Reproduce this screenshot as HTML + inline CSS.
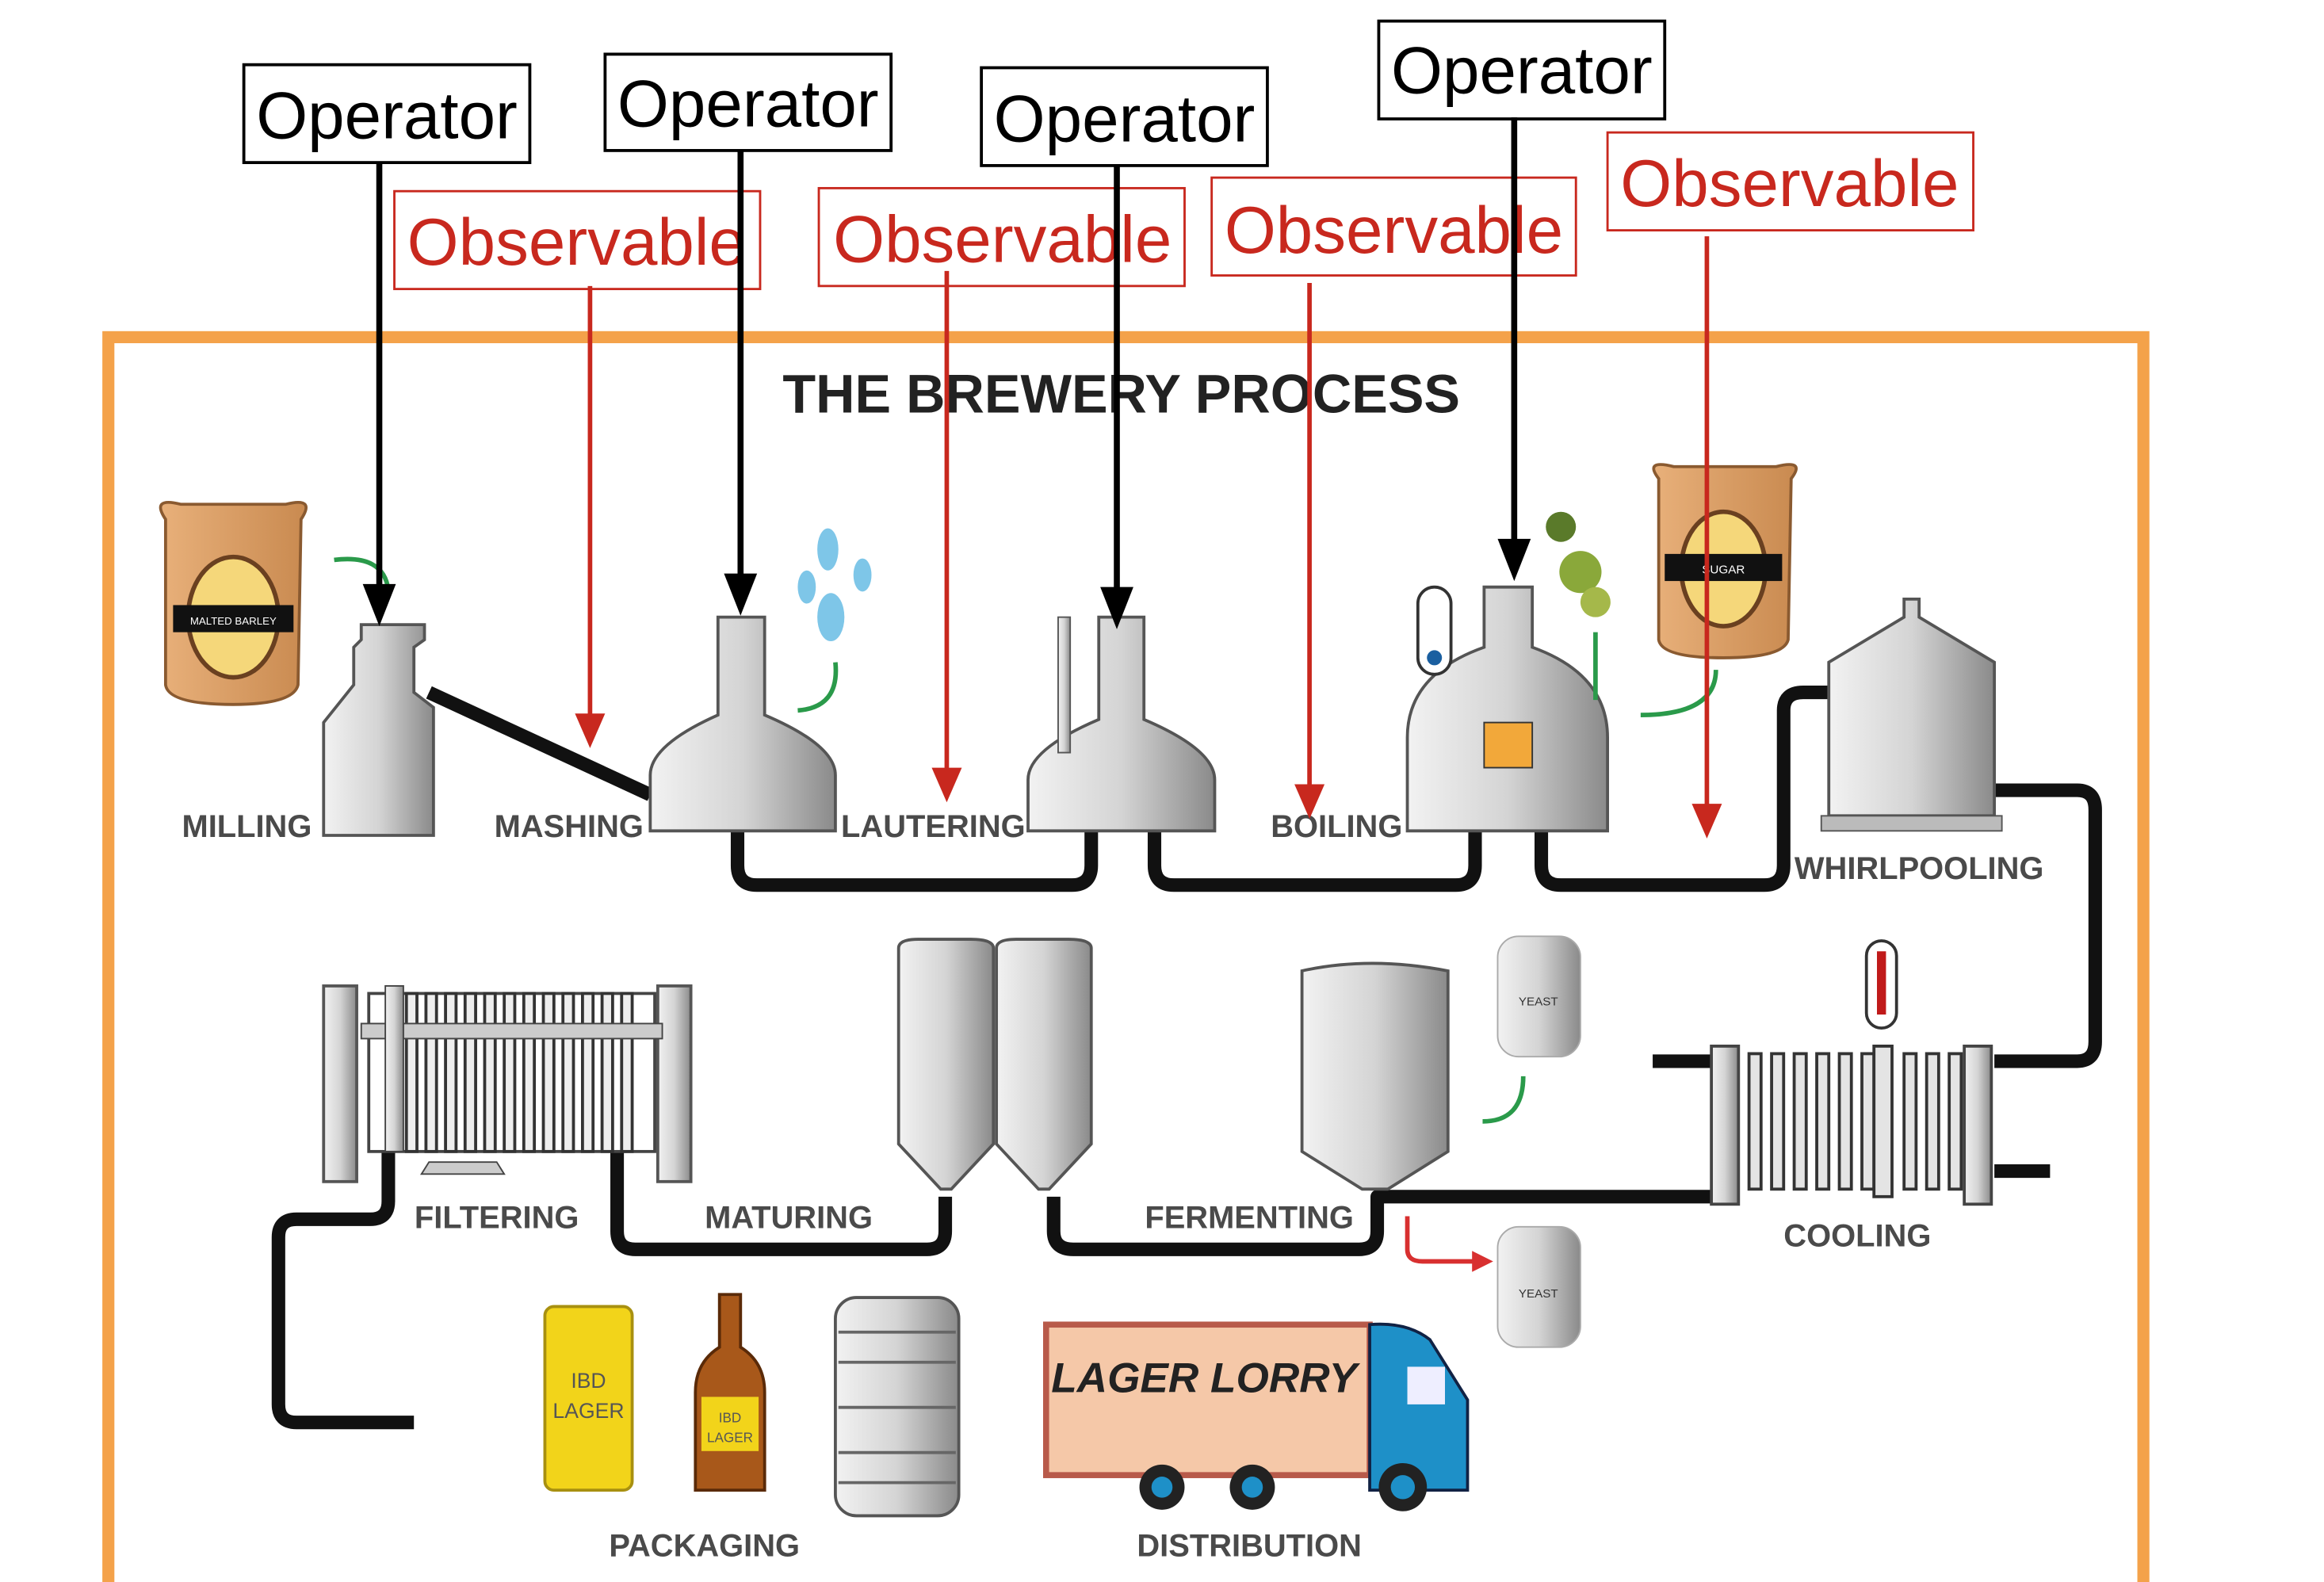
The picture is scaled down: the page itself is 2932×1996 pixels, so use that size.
<!DOCTYPE html>
<html><head><meta charset="utf-8"><style>
html,body{margin:0;padding:0;background:#fff;}
svg{display:block;}
.lbl{font-family:"Liberation Sans",sans-serif;font-size:21px;fill:#4a4a4a;font-weight:bold;}
.op{font-family:"Liberation Sans",sans-serif;font-size:44px;fill:#000;}
.ob{font-family:"Liberation Sans",sans-serif;font-size:44px;fill:#c8281e;}
</style></head><body>
<svg width="2932" height="1996" viewBox="0 0 1544 1051" preserveAspectRatio="none" xmlns="http://www.w3.org/2000/svg">
<defs>
<linearGradient id="g" x1="0" x2="1"><stop offset="0" stop-color="#f2f2f2"/><stop offset="0.5" stop-color="#d4d4d4"/><stop offset="1" stop-color="#8a8a8a"/></linearGradient>
<linearGradient id="bag" x1="0" x2="1"><stop offset="0" stop-color="#e8b07a"/><stop offset="1" stop-color="#c98a50"/></linearGradient>
</defs>
<rect x="72" y="224" width="1352" height="840" fill="#fff" stroke="#f4a24a" stroke-width="8"/>
<text x="745" y="274" text-anchor="middle" font-family="Liberation Sans,sans-serif" font-weight="bold" font-size="36" fill="#222">THE BREWERY PROCESS</text>

<g fill="none" stroke="#111" stroke-width="9" stroke-linejoin="round">
<path d="M285 460 L432 528"/>
<path d="M490 552 V575 Q490 588 503 588 H712 Q725 588 725 575 V552"/>
<path d="M767 552 V575 Q767 588 780 588 H967 Q980 588 980 575 V552"/>
<path d="M1024 552 V575 Q1024 588 1037 588 H1172 Q1185 588 1185 575 V472 Q1185 460 1198 460 H1215"/>
<path d="M1325 525 H1380 Q1392 525 1392 538 V692 Q1392 705 1380 705 H1325"/>
<path d="M1098 705 H1137"/>
<path d="M1325 778 H1362"/>
<path d="M1137 795 H915 V818 Q915 830 903 830 H713 Q700 830 700 818 V795"/>
<path d="M628 795 V818 Q628 830 616 830 H422 Q410 830 410 818 V765"/>
<path d="M258 765 V798 Q258 810 246 810 H197 Q185 810 185 822 V933 Q185 945 197 945 H275"/>
</g>

<path d="M110 345 Q100 330 120 335 L190 335 Q210 330 200 345 L198 455 Q195 468 155 468 Q112 468 110 455 Z" fill="url(#bag)" stroke="#8a5a30" stroke-width="2"/>
<ellipse cx="155" cy="410" rx="30" ry="40" fill="#f5d77a" stroke="#6a4020" stroke-width="3"/>
<rect x="115" y="402" width="80" height="18" fill="#111"/>
<text x="155" y="415" font-size="7" fill="#fff" text-anchor="middle" font-family="Liberation Sans,sans-serif">MALTED BARLEY</text>
<path d="M1102 318 Q1092 305 1112 310 L1180 310 Q1200 305 1190 318 L1188 425 Q1185 437 1145 437 Q1104 437 1102 425 Z" fill="url(#bag)" stroke="#8a5a30" stroke-width="2"/>
<ellipse cx="1145" cy="378" rx="28" ry="38" fill="#f5d77a" stroke="#6a4020" stroke-width="3"/>
<rect x="1106" y="368" width="78" height="18" fill="#111"/>
<text x="1145" y="381" font-size="8" fill="#fff" text-anchor="middle" font-family="Liberation Sans,sans-serif">SUGAR</text>

<path d="M240 415 H282 V425 L275 430 V460 L288 470 V555 H215 V480 L235 455 V430 L240 425 Z" fill="url(#g)" stroke="#555" stroke-width="2"/>
<path d="M477 410 H508 V475 Q555 495 555 515 V552 H432 V515 Q432 495 477 475 Z" fill="url(#g)" stroke="#555" stroke-width="2"/>
<path d="M730 410 H760 V478 Q807 498 807 518 V552 H683 V518 Q683 498 730 478 Z" fill="url(#g)" stroke="#555" stroke-width="2"/>
<rect x="703" y="410" width="8" height="90" fill="url(#g)" stroke="#555"/>
<path d="M986 390 H1018 V430 Q1068 448 1068 490 V552 H935 V490 Q935 448 986 430 Z" fill="url(#g)" stroke="#555" stroke-width="2"/>
<rect x="986" y="480" width="32" height="30" fill="#f2a83a" stroke="#333"/>
<rect x="942" y="390" width="22" height="58" rx="11" fill="#fff" stroke="#333" stroke-width="2"/>
<circle cx="953" cy="437" r="5" fill="#1a5fa0"/>
<circle cx="1050" cy="380" r="14" fill="#8aa83a"/><circle cx="1037" cy="350" r="10" fill="#5a7a2a"/><circle cx="1060" cy="400" r="10" fill="#a5b84a"/>
<g fill="#7ec6e8"><ellipse cx="550" cy="365" rx="7" ry="14"/><ellipse cx="536" cy="390" rx="6" ry="11"/><ellipse cx="573" cy="382" rx="6" ry="11"/><ellipse cx="552" cy="410" rx="9" ry="16"/></g>
<g fill="none" stroke="#2a9a4a" stroke-width="3"><path d="M222 372 Q255 368 258 392"/><path d="M555 440 Q558 470 530 472"/><path d="M1060 420 V465"/><path d="M1140 445 Q1140 475 1090 475"/><path d="M1012 715 Q1012 745 985 745"/></g>
<path d="M1265 398 H1275 V410 L1325 440 V542 H1215 V440 L1265 410 Z" fill="url(#g)" stroke="#555" stroke-width="2"/>
<rect x="1210" y="542" width="120" height="10" fill="#bbb" stroke="#555"/>
<rect x="1137" y="695" width="18" height="105" fill="url(#g)" stroke="#444" stroke-width="2"/>
<rect x="1305" y="695" width="18" height="105" fill="url(#g)" stroke="#444" stroke-width="2"/>
<g fill="#e4e4e4" stroke="#333" stroke-width="2">
<rect x="1162" y="700" width="8" height="90"/><rect x="1177" y="700" width="8" height="90"/><rect x="1192" y="700" width="8" height="90"/><rect x="1207" y="700" width="8" height="90"/><rect x="1222" y="700" width="8" height="90"/><rect x="1237" y="700" width="8" height="90"/><rect x="1245" y="695" width="12" height="100"/><rect x="1265" y="700" width="8" height="90"/><rect x="1280" y="700" width="8" height="90"/><rect x="1295" y="700" width="8" height="90"/></g>
<rect x="1240" y="625" width="20" height="58" rx="10" fill="#fff" stroke="#333" stroke-width="2"/>
<rect x="1247" y="632" width="6" height="42" fill="#c01a1a"/>
<path d="M865 645 Q910 635 962 645 V765 L922 790 H905 L865 765 Z" fill="url(#g)" stroke="#555" stroke-width="2"/>
<rect x="995" y="622" width="55" height="80" rx="14" fill="url(#g)" stroke="#aaa"/>
<rect x="995" y="815" width="55" height="80" rx="14" fill="url(#g)" stroke="#aaa"/>
<text x="1022" y="668" font-size="8" text-anchor="middle" fill="#333" font-family="Liberation Sans,sans-serif">YEAST</text>
<text x="1022" y="862" font-size="8" text-anchor="middle" fill="#333" font-family="Liberation Sans,sans-serif">YEAST</text>
<path d="M935 808 V830 Q935 838 945 838 H985" fill="none" stroke="#d83030" stroke-width="3"/>
<polygon points="992,838 978,831 978,845" fill="#d83030"/>
<path d="M597 630 Q597 624 610 624 H645 Q660 624 660 630 V760 L632 790 H625 L597 760 Z" fill="url(#g)" stroke="#555" stroke-width="2"/>
<path d="M662 630 Q662 624 675 624 H710 Q725 624 725 630 V760 L697 790 H690 L662 760 Z" fill="url(#g)" stroke="#555" stroke-width="2"/>
<rect x="215" y="655" width="22" height="130" fill="url(#g)" stroke="#555" stroke-width="2"/>
<rect x="437" y="655" width="22" height="130" fill="url(#g)" stroke="#555" stroke-width="2"/>
<rect x="245" y="660" width="190" height="105" fill="#fff" stroke="#444" stroke-width="2"/>
<g stroke="#333" stroke-width="2" fill="#eee">
<rect x="270" y="660" width="7" height="105"/><rect x="283" y="660" width="7" height="105"/><rect x="296" y="660" width="7" height="105"/><rect x="309" y="660" width="7" height="105"/><rect x="322" y="660" width="7" height="105"/><rect x="335" y="660" width="7" height="105"/><rect x="348" y="660" width="7" height="105"/><rect x="361" y="660" width="7" height="105"/><rect x="374" y="660" width="7" height="105"/><rect x="387" y="660" width="7" height="105"/><rect x="400" y="660" width="7" height="105"/><rect x="413" y="660" width="7" height="105"/></g>
<rect x="240" y="680" width="200" height="10" fill="#ccc" stroke="#444"/>
<rect x="256" y="655" width="12" height="110" fill="url(#g)" stroke="#444"/>
<polygon points="285,772 330,772 335,780 280,780" fill="#ccc" stroke="#444"/>

<rect x="362" y="868" width="58" height="122" rx="6" fill="#f2d41a" stroke="#a89010" stroke-width="2"/>
<text x="391" y="922" font-size="14" text-anchor="middle" fill="#555" font-family="Liberation Sans,sans-serif">IBD</text>
<text x="391" y="942" font-size="14" text-anchor="middle" fill="#555" font-family="Liberation Sans,sans-serif">LAGER</text>
<path d="M478 860 H492 V895 Q508 905 508 925 V990 H462 V925 Q462 905 478 895 Z" fill="#a8581a" stroke="#5a2a08" stroke-width="2"/>
<rect x="466" y="928" width="38" height="36" fill="#f2d41a"/>
<text x="485" y="945" font-size="9" text-anchor="middle" fill="#555" font-family="Liberation Sans,sans-serif">IBD</text>
<text x="485" y="958" font-size="9" text-anchor="middle" fill="#555" font-family="Liberation Sans,sans-serif">LAGER</text>
<rect x="555" y="862" width="82" height="145" rx="14" fill="url(#g)" stroke="#555" stroke-width="2"/>
<g stroke="#666" stroke-width="2"><line x1="557" y1="885" x2="635" y2="885"/><line x1="557" y1="905" x2="635" y2="905"/><line x1="557" y1="935" x2="635" y2="935"/><line x1="557" y1="965" x2="635" y2="965"/><line x1="557" y1="985" x2="635" y2="985"/></g>
<rect x="695" y="880" width="215" height="100" fill="#f5c8a8" stroke="#b85a4a" stroke-width="4"/>
<text x="800" y="925" font-size="28" font-style="italic" font-weight="bold" text-anchor="middle" fill="#222" font-family="Liberation Sans,sans-serif">LAGER LORRY</text>
<path d="M910 880 Q935 878 950 890 L975 930 V990 H910 Z" fill="#1e90c8" stroke="#124" stroke-width="2"/>
<rect x="935" y="908" width="25" height="25" fill="#eef"/>
<circle cx="772" cy="988" r="15" fill="#222"/><circle cx="772" cy="988" r="7" fill="#1e90c8"/>
<circle cx="832" cy="988" r="15" fill="#222"/><circle cx="832" cy="988" r="7" fill="#1e90c8"/>
<circle cx="932" cy="988" r="16" fill="#222"/><circle cx="932" cy="988" r="8" fill="#1e90c8"/>

<text class="lbl" x="164" y="556" text-anchor="middle">MILLING</text>
<text class="lbl" x="378" y="556" text-anchor="middle">MASHING</text>
<text class="lbl" x="620" y="556" text-anchor="middle">LAUTERING</text>
<text class="lbl" x="888" y="556" text-anchor="middle">BOILING</text>
<text class="lbl" x="1275" y="584" text-anchor="middle">WHIRLPOOLING</text>
<text class="lbl" x="330" y="816" text-anchor="middle">FILTERING</text>
<text class="lbl" x="524" y="816" text-anchor="middle">MATURING</text>
<text class="lbl" x="830" y="816" text-anchor="middle">FERMENTING</text>
<text class="lbl" x="1234" y="828" text-anchor="middle">COOLING</text>
<text class="lbl" x="468" y="1034" text-anchor="middle">PACKAGING</text>
<text class="lbl" x="830" y="1034" text-anchor="middle">DISTRIBUTION</text>

<g fill="#fff" stroke="#000" stroke-width="2">
<rect x="162" y="43" width="190" height="65"/><rect x="402" y="36" width="190" height="64"/><rect x="652" y="45" width="190" height="65"/><rect x="916" y="14" width="190" height="65"/></g>
<text class="op" x="257" y="92" text-anchor="middle">Operator</text>
<text class="op" x="497" y="84" text-anchor="middle">Operator</text>
<text class="op" x="747" y="94" text-anchor="middle">Operator</text>
<text class="op" x="1011" y="62" text-anchor="middle">Operator</text>
<g fill="none" stroke="#c8281e" stroke-width="1.5">
<rect x="262" y="127" width="243" height="65"/><rect x="544" y="125" width="243" height="65"/><rect x="805" y="118" width="242" height="65"/><rect x="1068" y="88" width="243" height="65"/></g>
<text class="ob" x="383" y="176" text-anchor="middle">Observable</text>
<text class="ob" x="666" y="174" text-anchor="middle">Observable</text>
<text class="ob" x="926" y="168" text-anchor="middle">Observable</text>
<text class="ob" x="1189" y="137" text-anchor="middle">Observable</text>

<g stroke="#000" stroke-width="4">
<line x1="252" y1="108" x2="252" y2="392"/><line x1="492" y1="100" x2="492" y2="385"/><line x1="742" y1="110" x2="742" y2="394"/><line x1="1006" y1="78" x2="1006" y2="362"/></g>
<g fill="#000">
<polygon points="241,388 263,388 252,416"/><polygon points="481,381 503,381 492,409"/><polygon points="731,390 753,390 742,418"/><polygon points="995,358 1017,358 1006,386"/></g>
<g stroke="#c8281e" stroke-width="3">
<line x1="392" y1="190" x2="392" y2="478"/><line x1="629" y1="180" x2="629" y2="514"/><line x1="870" y1="188" x2="870" y2="525"/><line x1="1134" y1="157" x2="1134" y2="538"/></g>
<g fill="#c8281e">
<polygon points="382,474 402,474 392,497"/><polygon points="619,510 639,510 629,533"/><polygon points="860,521 880,521 870,544"/><polygon points="1124,534 1144,534 1134,557"/></g>
</svg>
</body></html>
